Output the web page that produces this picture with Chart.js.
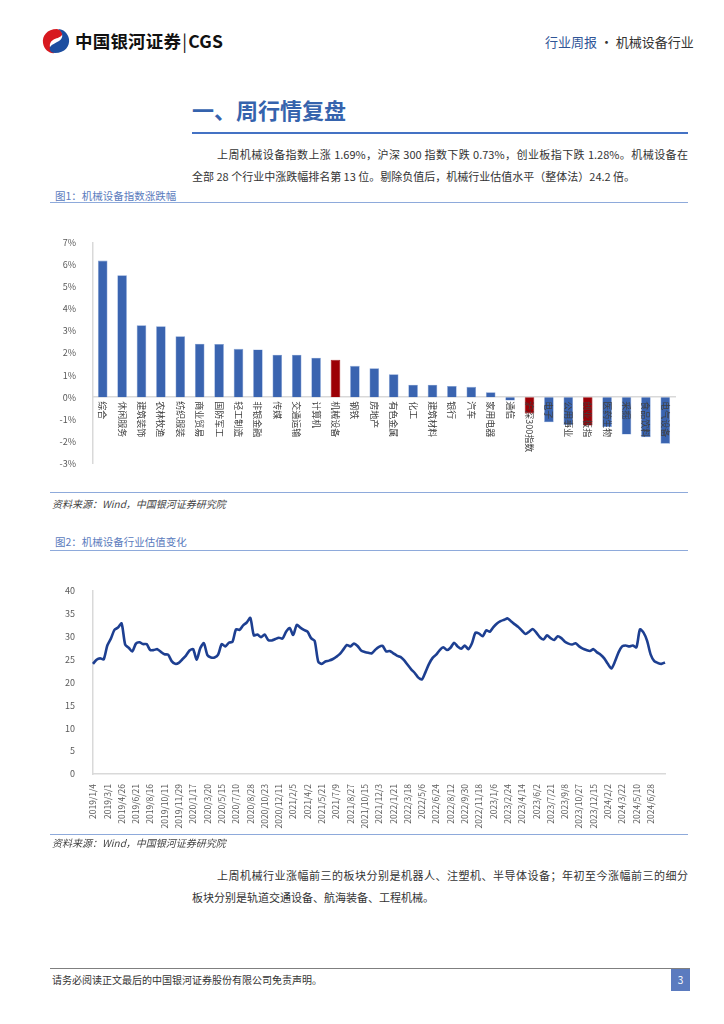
<!DOCTYPE html>
<html lang="zh">
<head>
<meta charset="utf-8">
<title>机械设备行业 周报</title>
<script src="https://cdn.jsdelivr.net/npm/chart.js@4.4.1/dist/chart.umd.min.js"></script>
<style>
  body { margin: 0; background: #fff; font-family: "Noto Sans CJK SC", "Noto Sans", sans-serif; }
  #page { position: relative; width: 724px; height: 1024px; overflow: hidden; }
  .abs { position: absolute; white-space: nowrap; }
  .hline { position: absolute; height: 0; }
  .para { position: absolute; font-size: 11px; color: #333; text-align: justify; text-align-last: justify; white-space: nowrap; }
  .cap { position: absolute; font-size: 10.5px; color: #5b7bbd; }
  .src { position: absolute; font-size: 10px; color: #444; font-style: italic; }
</style>
</head>
<body>
<div id="page">
  <!-- header -->
  <svg class="abs" style="left:41px;top:27px" width="30" height="28" viewBox="0 0 30 28">
    <path d="M16 2 C6 2 1 9 2 16 C3 23 9 27 14 26 C8 23 7 16 12 13 C15 11 19 11 21 8 C22 6 20 3 16 2 Z" fill="#d7191f"/>
    <path d="M14 26 C24 26 29 19 28 12 C27 6 22 2 17 2 C22 5 23 11 18 14 C15 16 11 17 9 20 C8 23 10 26 14 26 Z" fill="#1c4ea0"/>
  </svg>
  <div class="abs" style="left:75px;top:28px;font-size:17.5px;font-weight:bold;color:#111;letter-spacing:0.2px">中国银河证券<span style="font-weight:normal;margin:0 1px">|</span>CGS</div>
  <div class="abs" style="left:545px;top:32px;font-size:13px;color:#333"><span style="color:#2f5597">行业周报</span> · 机械设备行业</div>

  <!-- section title -->
  <div class="abs" style="left:192px;top:93px;font-size:22px;font-weight:bold;color:#3563ad">一、周行情复盘</div>
  <div class="hline" style="left:192px;top:132px;width:496px;border-top:2px solid #4472c4"></div>

  <div class="para" style="left:217px;top:146px;width:471px">上周机械设备指数上涨 1.69%，沪深 300 指数下跌 0.73%，创业板指下跌 1.28%。机械设备在</div>
  <div class="abs" style="left:192px;top:168px;font-size:11px;color:#333">全部 28 个行业中涨跌幅排名第 13 位。剔除负值后，机械行业估值水平（整体法）24.2 倍。</div>

  <!-- figure 1 -->
  <div class="cap" style="left:55px;top:188px">图1：机械设备指数涨跌幅</div>
  <div class="hline" style="left:50px;top:202px;width:638px;border-top:1.5px solid #8eaadb"></div>
  <div style="position:absolute;left:50px;top:228px;width:640px;height:250px"><canvas id="barChart"></canvas></div>
  <div class="hline" style="left:50px;top:492px;width:638px;border-top:1.5px solid #8eaadb"></div>
  <div class="src" style="left:52px;top:496px">资料来源：Wind，中国银河证券研究院</div>

  <!-- figure 2 -->
  <div class="cap" style="left:55px;top:534px">图2：机械设备行业估值变化</div>
  <div class="hline" style="left:50px;top:550px;width:638px;border-top:1.5px solid #8eaadb"></div>
  <div style="position:absolute;left:50px;top:575px;width:640px;height:260px"><canvas id="lineChart"></canvas></div>
  <div class="hline" style="left:50px;top:834px;width:638px;border-top:1.5px solid #8eaadb"></div>
  <div class="src" style="left:52px;top:835px">资料来源：Wind，中国银河证券研究院</div>

  <div class="para" style="left:217px;top:867px;width:471px">上周机械行业涨幅前三的板块分别是机器人、注塑机、半导体设备；年初至今涨幅前三的细分</div>
  <div class="abs" style="left:192px;top:889px;font-size:11px;color:#333">板块分别是轨道交通设备、航海装备、工程机械。</div>

  <!-- footer -->
  <div class="hline" style="left:50px;top:968px;width:640px;border-top:1px solid #7f7f7f"></div>
  <div class="abs" style="left:52px;top:972px;font-size:10px;color:#333">请务必阅读正文最后的中国银河证券股份有限公司免责声明。</div>
  <div class="abs" style="left:671px;top:969px;width:19px;height:22px;background:#5b7bbf;color:#fff;font-size:10px;text-align:center;line-height:22px">3</div>
</div>

<script>
// ---- figure 1: weekly change by industry (%)
const industries = ['综合', '休闲服务', '建筑装饰', '农林牧渔', '纺织服装', '商业贸易', '国防军工', '轻工制造',
  '非银金融', '传媒', '交通运输', '计算机', '机械设备', '钢铁', '房地产', '有色金属', '化工', '建筑材料',
  '银行', '汽车', '家用电器', '通信', '沪深300指数', '电子', '公用事业', '创业板指', '医药生物', '采掘',
  '食品饮料', '电气设备'];
const weeklyChange = [6.18, 5.52, 3.26, 3.21, 2.76, 2.42, 2.41, 2.19, 2.16, 1.92, 1.92, 1.79, 1.69, 1.42, 1.31,
  1.04, 0.57, 0.57, 0.51, 0.47, 0.23, -0.15, -0.73, -1.13, -1.26, -1.28, -1.35, -1.69, -1.81, -2.10];
const highlighted = ['机械设备', '沪深300指数', '创业板指'];
const pctTicks = [-3, -2, -1, 0, 1, 2, 3, 4, 5, 6, 7];

// ---- figure 2: industry PE (TTM, ex-negative)
const dateTicks = ['2019/1/4', '2019/3/1', '2019/4/26', '2019/6/21', '2019/8/16', '2019/10/11', '2019/11/29',
  '2020/1/17', '2020/3/20', '2020/5/15', '2020/7/10', '2020/8/28', '2020/10/23', '2020/12/11', '2021/2/5',
  '2021/4/2', '2021/5/21', '2021/7/9', '2021/8/27', '2021/10/15', '2021/12/3', '2022/1/21', '2022/3/18',
  '2022/5/6', '2022/6/24', '2022/8/12', '2022/9/30', '2022/11/18', '2023/1/6', '2023/2/24', '2023/4/14',
  '2023/6/2', '2023/7/21', '2023/9/8', '2023/10/27', '2023/12/15', '2024/2/2', '2024/3/22', '2024/5/10',
  '2024/6/28'];
const peValues = [
  24.0, 24.9, 25.2, 25.0, 28.0, 29.5, 31.4, 31.9, 32.8, 28.2,
  27.5, 26.7, 28.4, 28.7, 28.3, 28.3, 27.0, 27.0, 27.2, 26.6,
  26.1, 26.0, 24.6, 24.0, 24.2, 25.0, 25.8, 26.9, 27.2, 24.9,
  27.4, 28.5, 25.9, 25.4, 25.4, 26.0, 28.3, 27.8, 28.6, 28.8,
  31.5, 31.4, 32.4, 33.0, 34.0, 30.2, 30.4, 29.8, 30.4, 29.2,
  29.1, 29.4, 29.7, 29.5, 31.0, 31.8, 30.3, 32.5, 31.9, 31.4,
  31.0, 29.6, 29.0, 24.5, 24.0, 24.5, 24.7, 25.0, 25.5, 26.1,
  27.1, 28.1, 27.8, 28.4, 27.9, 26.9, 26.6, 26.4, 26.3, 27.1,
  27.7, 27.9, 26.7, 26.8, 26.3, 25.8, 25.5, 24.8, 23.8, 22.8,
  22.0, 21.0, 20.6, 22.2, 24.0, 25.3, 26.0, 27.0, 27.6, 27.0,
  27.5, 28.6, 27.8, 27.3, 28.0, 27.2, 28.5, 30.8, 30.6, 30.0,
  31.3, 31.0, 32.0, 32.8, 33.3, 33.6, 33.9, 33.2, 32.6, 32.0,
  31.2, 30.5, 31.0, 31.6, 30.8, 29.8, 29.3, 30.2, 29.6, 29.2,
  30.0, 29.6, 28.8, 28.4, 28.2, 28.5, 27.8, 27.3, 27.0, 26.8,
  27.2, 26.5, 26.0, 25.2, 24.0, 23.0, 24.5, 26.5, 27.8, 28.0,
  27.8, 28.0, 27.6, 31.5, 30.8, 29.0, 26.0, 24.6, 24.2, 24.0,
  24.3];
const peTicks = [0, 5, 10, 15, 20, 25, 30, 35, 40];
const pointsPerTick = 4;

const tickColor = '#595959';
const axisColor = '#d9d9d9';
const cjkFont = '"Noto Sans CJK SC", "Noto Sans", sans-serif';

// industry names sit on the zero line, reading downward
const zeroLineLabels = {
  id: 'zeroLineLabels',
  afterDatasetsDraw(chart) {
    const ctx = chart.ctx;
    const x = chart.scales.x;
    const y0 = chart.scales.y.getPixelForValue(0);
    ctx.save();
    ctx.font = '9px ' + cjkFont;
    ctx.fillStyle = '#404040';
    ctx.textAlign = 'left';
    ctx.textBaseline = 'middle';
    industries.forEach((name, i) => {
      ctx.save();
      ctx.translate(x.getPixelForValue(i), y0 + 4);
      ctx.rotate(Math.PI / 2);
      ctx.fillText(name, 0, 0);
      ctx.restore();
    });
    ctx.restore();
  }
};

new Chart(document.getElementById('barChart'), {
  type: 'bar',
  data: {
    labels: industries,
    datasets: [{
      data: weeklyChange,
      backgroundColor: industries.map(n => highlighted.includes(n) ? '#9c0006' : '#3a64b0'),
      borderColor: industries.map(n => highlighted.includes(n) ? '#9c0006' : '#7f9fd6'),
      borderWidth: 0.6,
      barPercentage: 0.55,
      categoryPercentage: 0.9
    }]
  },
  options: {
    responsive: true,
    maintainAspectRatio: false,
    animation: false,
    layout: { padding: { top: 10, bottom: 11, right: 15, left: 0 } },
    plugins: { legend: { display: false }, tooltip: { enabled: false } },
    scales: {
      x: {
        position: { y: 0 },
        grid: { display: false },
        border: { color: axisColor, width: 1.5 },
        ticks: { display: false }
      },
      y: {
        min: -3,
        max: 7,
        afterBuildTicks: s => { s.ticks = pctTicks.map(v => ({ value: v })); },
        afterFit: s => { s.width = 43; },
        grid: { display: false },
        border: { color: axisColor, width: 1.5 },
        ticks: {
          color: tickColor,
          font: { size: 9, family: cjkFont },
          padding: 9,
          callback: v => v + '%'
        }
      }
    }
  },
  plugins: [zeroLineLabels]
});

const peLabels = peValues.map((_, i) => i % pointsPerTick === 0 ? (dateTicks[i / pointsPerTick] || '') : '');

new Chart(document.getElementById('lineChart'), {
  type: 'line',
  data: {
    labels: peLabels,
    datasets: [{
      data: peValues,
      borderColor: '#1d3f91',
      borderWidth: 2.6,
      pointRadius: 0,
      tension: 0.25,
      fill: false
    }]
  },
  options: {
    responsive: true,
    maintainAspectRatio: false,
    animation: false,
    layout: { padding: { top: 8, bottom: 3, right: 25, left: 0 } },
    plugins: { legend: { display: false }, tooltip: { enabled: false } },
    scales: {
      x: {
        grid: { display: false },
        border: { color: axisColor, width: 1.5 },
        afterFit: s => { s.height = 58; },
        ticks: {
          autoSkip: false,
          maxRotation: 90,
          minRotation: 90,
          padding: 2,
          color: tickColor,
          font: { size: 8.5, family: cjkFont }
        }
      },
      y: {
        min: 0,
        max: 40,
        afterBuildTicks: s => { s.ticks = peTicks.map(v => ({ value: v })); },
        afterFit: s => { s.width = 43; },
        grid: { display: false },
        border: { color: axisColor, width: 1.5 },
        ticks: {
          color: tickColor,
          font: { size: 9, family: cjkFont },
          padding: 10
        }
      }
    }
  }
});
</script>
</body>
</html>
